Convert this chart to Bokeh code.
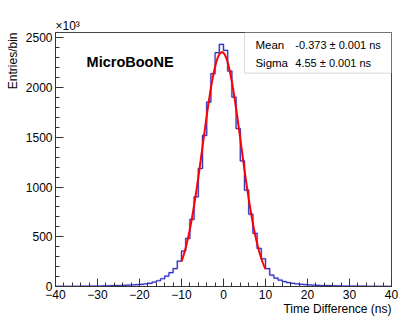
import numpy as np
from bokeh.plotting import figure
from bokeh.models import FixedTicker, Label, BoxAnnotation, Title
from bokeh.embed import file_html
from bokeh.resources import INLINE

# ---- data ----
bin_low, bin_high = -40, 40
counts = [1, 1, 1, 2, 2, 2, 3, 3, 4, 4,
          5, 6, 7, 8, 9, 10, 12, 14, 16, 19,
          22, 26, 32, 44, 58, 78, 105, 139, 180, 256,
          356, 483, 674, 901, 1186, 1518, 1854, 2139, 2350, 2433,
          2373, 2165, 1904, 1587, 1262, 968, 727, 534, 383, 278,
          180, 115, 85, 65, 49, 39, 32, 26, 22, 19,
          16, 14, 12, 10, 9, 8, 7, 6, 5, 5,
          4, 4, 3, 3, 2, 2, 2, 1, 1, 1]
fit_mean = -0.373
fit_sigma = 4.55
fit_amplitude = 2355
fit_range = [-10, 10]
x_ticks = [-40, -30, -20, -10, 0, 10, 20, 30, 40]
y_ticks = [0, 500, 1000, 1500, 2000, 2500]
stats_names = ["Mean", "Sigma"]
stats_values = ["-0.373 \u00b1 0.001 ns", "4.55 \u00b1 0.001 ns"]

FONT = "Liberation Sans"

p = figure(width=419, height=319, output_backend="svg", toolbar_location=None,
           x_range=(bin_low, bin_high), y_range=(0, 2553),
           min_border_left=55, min_border_right=28, min_border_top=32, min_border_bottom=33)
p.background_fill_color = "white"
p.border_fill_color = "white"
p.outline_line_color = "#444444"
p.grid.visible = False

# histogram
edges = list(np.arange(bin_low, bin_high + 1, 1))
ys = counts + [counts[-1]]
p.step(x=edges, y=ys, mode="after", line_color="#8c8ce0", line_width=2.5, line_alpha=0.35)
p.step(x=edges, y=ys, mode="after", line_color="#3434c4", line_width=1.2)

# gaussian fit curve
fx = np.linspace(fit_range[0], fit_range[1], 300)
fy = fit_amplitude * np.exp(-(fx - fit_mean) ** 2 / (2 * fit_sigma ** 2))
p.line(fx, fy, line_color="#ff0000", line_width=2)

# axes
for ax, ticks, minor in ((p.xaxis[0], x_ticks, list(range(-40, 41, 2))),
                         (p.yaxis[0], y_ticks, list(range(0, 2501, 100)))):
    ax.ticker = FixedTicker(ticks=ticks, minor_ticks=minor)
    ax.major_tick_in = 8
    ax.major_tick_out = 0
    ax.minor_tick_in = 4
    ax.minor_tick_out = 0
    ax.axis_line_color = "#333333"
    ax.major_tick_line_color = "#333333"
    ax.minor_tick_line_color = "#333333"
    ax.major_label_text_font = FONT
    ax.major_label_text_font_size = "12px"
    ax.major_label_text_color = "black"
p.xaxis.major_label_standoff = 3
p.yaxis.major_label_standoff = 3
p.xaxis.major_label_overrides = {t: (str(t).replace("-", "\u2212")) for t in x_ticks}

# stats box
p.add_layout(BoxAnnotation(left=5.0, right=40, top=2553, bottom=2144,
                           fill_color="white", fill_alpha=1.0,
                           line_color="#808080", line_width=1))
row_y = [2432, 2244]
for name, val, yy in zip(stats_names, stats_values, row_y):
    p.add_layout(Label(x=7.6, y=yy, text=name, text_font=FONT, text_font_size="11.5px",
                       text_baseline="middle", text_align="left", text_color="black"))
    p.add_layout(Label(x=17.1, y=yy, text=val, text_font=FONT, text_font_size="11px",
                       text_baseline="middle", text_align="left", text_color="black"))

# experiment label
p.add_layout(Label(x=-32.6, y=2254, text="MicroBooNE", text_font=FONT, text_font_size="14.5px",
                   text_font_style="bold", text_baseline="middle", text_align="left",
                   text_color="black"))

# titles outside the frame
def title(text, align, standoff):
    return Title(text=text, align=align, standoff=standoff, text_font=FONT,
                 text_font_size="12px", text_font_style="normal", text_color="black")

p.add_layout(title("\u00d710\u00b3", "left", 0), "above")
p.add_layout(title("Time Difference (ns)", "right", -4), "below")
p.add_layout(title("Entries/bin", "right", 5), "left")

open("out.html", "w").write(file_html(p, INLINE))
